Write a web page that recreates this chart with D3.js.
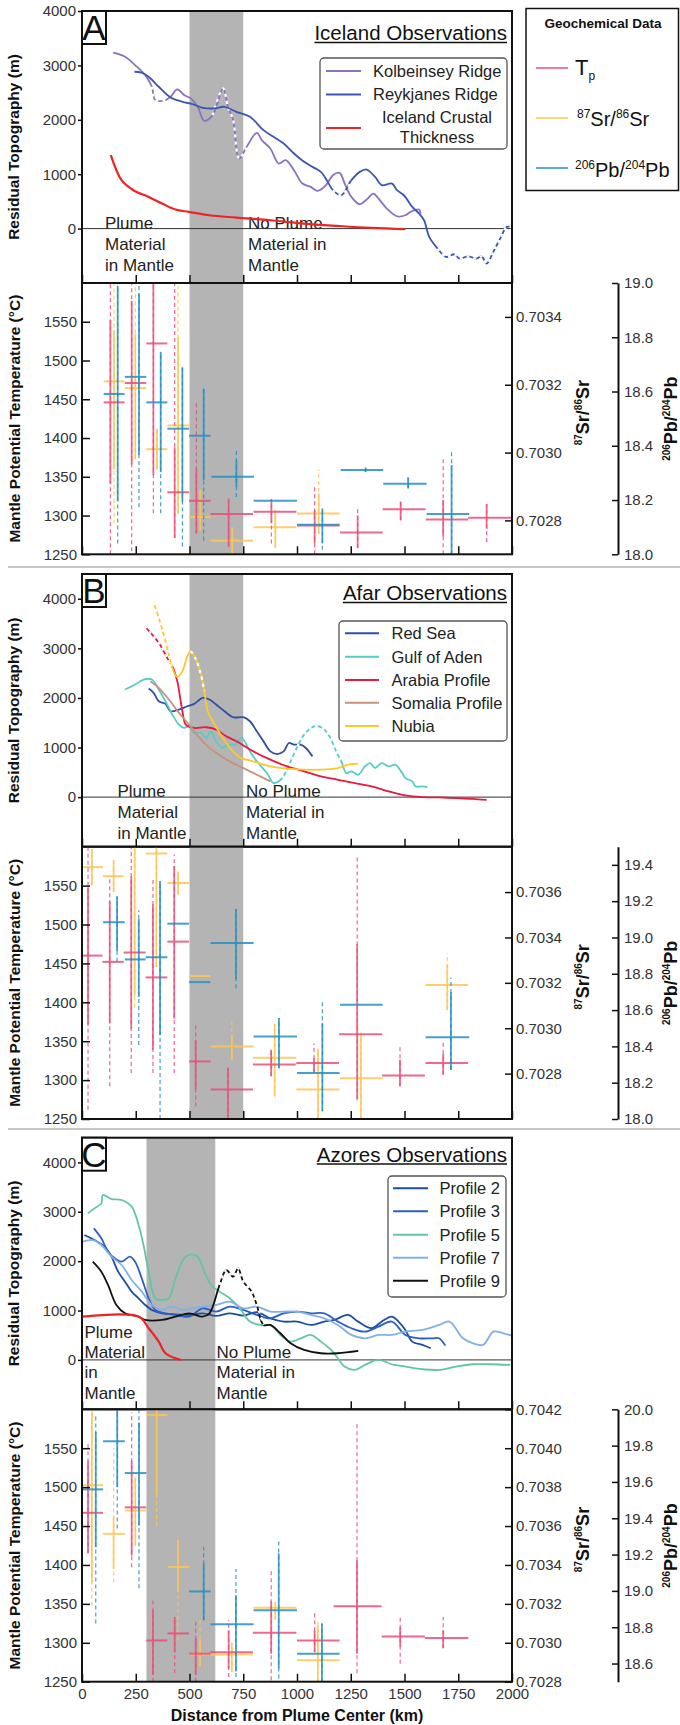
<!DOCTYPE html>
<html lang="en">
<head>
<meta charset="UTF-8">
<title>Plume observations</title>
<script src="https://cdn.jsdelivr.net/npm/d3@7"></script>
<style>
  body { margin: 0; background: #fff; }
  svg { display: block; font-family: "Liberation Sans", Arial, sans-serif; }
</style>
</head>
<body>
<svg id="fig" width="680" height="1725"></svg>
<script>
// ---------- data ----------
const kmTicks = [0, 250, 500, 750, 1000, 1250, 1500, 1750, 2000];
const tempTicks = [1250, 1300, 1350, 1400, 1450, 1500, 1550];

// residual topography profiles: [km, m]
const kolbeinsey = [[145,3233],[200,3160],[247,3006],[294,2822],[325,2607],[341,2362],[388,2362],[412,2423],[443,2558],[475,2454],[506,2393],[538,2239],[569,1982],[608,2086],[656,2577],[679,2239],[703,1994],[731,1288],[766,1503],[813,1761],[836,1626],[876,1472],[915,1196],[947,1258],[986,1074],[1025,828],[1064,767],[1096,693],[1135,798],[1167,982],[1198,1025],[1222,828],[1253,583],[1292,448],[1324,534],[1355,644],[1379,552],[1418,368],[1465,227],[1504,245],[1528,307],[1568,350],[1575,276]];
const reykjanes = [[244,2883],[278,2865],[310,2791],[357,2607],[412,2411],[467,2331],[514,2288],[561,2221],[616,2209],[663,2239],[718,2147],[781,2055],[844,1810],[891,1687],[938,1564],[986,1380],[1033,1227],[1072,1135],[1111,1043],[1143,859],[1167,706],[1206,613],[1253,890],[1292,1043],[1324,1086],[1363,951],[1394,798],[1442,828],[1465,706],[1497,613],[1536,399],[1568,276],[1591,153],[1615,-153],[1654,-368],[1693,-521],[1733,-472],[1756,-552],[1796,-509],[1835,-552],[1859,-509],[1882,-644],[1913,-429],[1945,-184],[1976,31],[2000,20]];
const icelandCrust = [[134,1350],[184,890],[239,706],[310,583],[373,460],[435,350],[498,307],[593,245],[718,202],[876,153],[1033,92],[1190,49],[1347,12],[1504,-12]];

const redSea = [[310,2190],[333,2103],[357,1934],[388,1880],[412,1732],[451,1766],[490,1833],[522,1880],[561,2002],[593,1968],[624,1867],[663,1732],[703,1611],[750,1611],[781,1530],[813,1328],[844,1126],[876,923],[907,869],[938,923],[962,1092],[986,1058],[1017,1058],[1041,991],[1072,822]];
const gulfAden = [[200,2170],[247,2271],[286,2372],[325,2372],[357,2170],[388,1934],[420,1665],[451,1463],[475,1395],[498,1429],[522,1294],[553,1294],[577,1193],[600,1328],[624,1126],[655,991],[679,1058],[711,1058],[742,1193],[781,923],[813,721],[860,485],[891,283],[931,384],[970,721],[1033,1260],[1080,1429],[1119,1395],[1151,1226],[1182,923],[1206,721],[1230,485],[1253,519],[1285,452],[1316,620],[1340,687],[1363,586],[1394,687],[1426,620],[1457,654],[1489,485],[1504,384],[1536,317],[1552,216],[1583,216],[1607,202]];
const arabia = [[291,3451],[318,3316],[357,3114],[396,2810],[420,2642],[443,2339],[467,1732],[483,1463],[522,1395],[577,1409],[624,1361],[671,1227],[718,1126],[797,923],[876,755],[954,620],[1033,519],[1111,418],[1190,350],[1269,283],[1347,216],[1426,115],[1504,34],[1583,0],[1662,-7],[1740,-20],[1819,-34],[1882,-54]];
const somalia = [[318,2339],[357,2204],[404,1968],[451,1698],[498,1463],[561,1126],[624,890],[687,721],[750,586],[813,452],[876,317]];
const nubia = [[333,3923],[357,3619],[380,3282],[404,2878],[420,2608],[443,2420],[467,2541],[490,2844],[506,2945],[530,2777],[553,2473],[569,2137],[585,1732],[608,1530],[655,1193],[703,923],[734,802],[797,721],[876,620],[954,573],[1033,553],[1111,553],[1190,586],[1237,654],[1285,674]];

const profile2 = [[11,2529],[58,2428],[105,2293],[137,2091],[168,1787],[200,1585],[231,1383],[263,1248],[294,1113],[325,1012],[373,944],[435,924],[498,911],[561,944],[624,890],[687,944],[750,897],[813,965],[876,843],[938,776],[1001,776],[1064,708],[1127,776],[1174,809],[1237,911],[1284,776],[1347,641],[1394,776],[1441,877],[1472,776],[1504,607],[1536,371],[1583,304],[1622,236]];
const profile3 = [[55,2664],[90,2462],[121,2192],[153,2057],[184,1990],[223,2091],[247,1990],[278,1652],[310,1248],[341,1012],[388,944],[435,911],[498,877],[561,1045],[624,978],[687,1079],[750,1012],[813,911],[876,843],[938,944],[1001,978],[1064,944],[1127,944],[1190,776],[1253,641],[1316,573],[1379,675],[1441,776],[1504,506],[1567,438],[1630,438],[1661,438],[1690,290]];
const profile5 = [[27,2968],[58,3069],[90,3170],[97,3339],[137,3258],[184,3238],[231,3103],[263,2732],[286,2327],[310,1787],[341,1248],[373,1214],[404,1248],[435,1652],[475,2057],[506,2138],[538,2091],[569,1787],[600,1518],[640,1383],[687,1248],[734,1045],[781,776],[828,708],[876,708],[923,506],[970,371],[1017,438],[1064,506],[1111,371],[1159,202],[1190,34],[1221,-135],[1269,-202],[1316,-101],[1379,0],[1441,-88],[1504,-135],[1583,-189],[1661,-202],[1740,-135],[1819,-88],[1898,-88],[1992,-101]];
const profile7 = [[3,2394],[50,2428],[90,2327],[137,2091],[184,1922],[231,1619],[278,1383],[325,1113],[373,1012],[420,1079],[467,1012],[514,1045],[561,1079],[624,1113],[687,1180],[750,1045],[813,1079],[876,978],[938,978],[1001,978],[1064,911],[1127,843],[1190,708],[1253,506],[1316,438],[1379,506],[1441,506],[1504,573],[1583,607],[1661,708],[1709,776],[1772,438],[1819,337],[1866,304],[1913,573],[1960,539],[2000,492]];
const profile9 = [[50,1990],[90,1787],[121,1518],[160,1113],[200,944],[263,877],[294,809],[373,809],[435,877],[498,944],[561,877],[593,944],[640,1518],[671,1821],[703,1686],[726,1855],[750,1585],[789,1383],[813,1113],[844,708],[876,708],[923,540],[970,337],[1033,202],[1111,135],[1190,135],[1285,182]];
const azoresCrust = [[3,877],[263,877],[310,641],[357,371],[388,135],[459,0]];

// geochemical crosses: [xAtBar, barFrom, barTo, value, solidLo, solidHi, dashLo, dashHi]
const icelandTp = [[132,101,198,1446,1341,1552,1250,1610],[231,199,299,1471,1366,1577,1254,1610],[332,299,397,1522,1352,1610,1303,1610],[431,397,498,1330,1271,1388,1271,1610],[532,498,598,1319,1277,1361,1277,1448],[682,598,795,1302,1260,1322,1260,1322],[881,798,997,1305,1290,1321,1264,1321],[1082,1000,1198,1287,1264,1307,1250,1339],[1282,1200,1398,1278,1258,1300,1258,1308],[1482,1398,1598,1308,1294,1318,1294,1318],[1680,1599,1796,1295,1273,1320,1250,1376],[1882,1796,1998,1297,1283,1315,1266,1315]];
const icelandSr = [[149,101,198,0.70321,0.70295,0.70336,0.70279,0.70352],[248,199,299,0.70319,0.70298,0.70335,0.70298,0.70352],[349,299,397,0.70301,0.70295,0.70307,0.70295,0.70307],[447,397,498,0.70308,0.70282,0.70334,0.70282,0.70352],[550,498,598,0.70281,0.70277,0.70289,0.70277,0.70289],[699,598,795,0.70274,0.70270,0.70278,0.70270,0.70278],[899,798,997,0.70278,0.70272,0.70283,0.70272,0.70283],[1101,1000,1198,0.70282,0.70276,0.70288,0.70276,0.70295]];
const icelandPb = [[166,101,198,18.591,18.197,18.989,18.04,19.03],[265,199,299,18.654,18.366,18.96,18.174,19.03],[366,299,397,18.56,18.303,18.746,18.151,18.746],[467,397,498,18.463,18.194,18.689,18.029,18.689],[566,498,598,18.437,18.274,18.611,18.051,18.611],[718,602,800,18.286,18.249,18.346,18.211,18.383],[900,798,1000,18.197,18.197,18.197,18.197,18.197],[1118,1000,1198,18.109,18.04,18.169,18.017,18.169],[1319,1203,1401,18.311,18.303,18.32,18.303,18.32],[1517,1401,1603,18.26,18.243,18.283,18.243,18.283],[1719,1603,1801,18.149,18.0,18.329,18.0,18.383]];

const afarTp = [[28,0,95,1460,1371,1548,1262,1600],[129,95,194,1452,1373,1530,1292,1562],[229,194,296,1464,1366,1562,1309,1600],[330,296,397,1432,1339,1526,1309,1560],[429,397,498,1478,1379,1575,1309,1590],[529,498,598,1324,1288,1351,1266,1373],[679,598,795,1288,1253,1316,1250,1316],[880,795,994,1320,1305,1339,1305,1339],[1079,997,1195,1322,1309,1328,1309,1347],[1280,1196,1396,1359,1275,1475,1275,1588],[1479,1396,1595,1306,1292,1326,1292,1345],[1680,1598,1796,1322,1307,1334,1307,1351]];
const afarSr = [[46,0,98,0.70371,0.70363,0.70379,0.70363,0.70379],[147,98,194,0.70367,0.70360,0.70374,0.70360,0.70374],[245,194,296,0.70387,0.70314,0.70383,0.70309,0.70383],[346,296,397,0.70377,0.70327,0.70383,0.70327,0.70383],[447,397,498,0.70364,0.70359,0.70369,0.70359,0.70369],[548,498,597,0.70323,0.70323,0.70323,0.70323,0.70323],[697,598,798,0.70292,0.70286,0.70297,0.70286,0.70304],[896,795,997,0.70287,0.70270,0.70302,0.70270,0.70302],[1098,997,1198,0.70273,0.70260,0.70291,0.70260,0.70291],[1297,1200,1398,0.70278,0.70260,0.70298,0.70260,0.70298],[1699,1598,1796,0.70319,0.70308,0.70328,0.70308,0.70333]];
const afarPb = [[163,98,199,19.084,18.926,19.226,18.866,19.226],[264,199,296,18.879,18.673,19.101,18.407,19.149],[363,296,397,18.891,18.463,19.311,18.0,19.311],[447,397,498,19.076,19.076,19.076,19.076,19.076],[548,498,597,18.754,18.754,18.754,18.754,18.754],[716,598,798,18.969,18.771,19.157,18.72,19.157],[916,798,1000,18.454,18.279,18.557,18.279,18.557],[1118,1000,1198,18.253,18.043,18.527,18.043,18.643],[1299,1200,1398,18.63,18.63,18.63,18.63,18.63],[1716,1598,1801,18.45,18.27,18.699,18.27,18.78]];

const azoresTp = [[28,0,98,1467,1415,1534,1415,1558],[231,199,299,1474,1412,1534,1397,1596],[330,299,397,1303,1259,1342,1250,1357],[431,397,498,1312,1288,1333,1261,1333],[529,498,598,1286,1259,1306,1250,1327],[682,598,795,1288,1267,1316,1256,1329],[880,795,997,1313,1286,1353,1252,1395],[1082,1000,1198,1303,1288,1316,1288,1338],[1279,1170,1393,1347,1286,1406,1261,1581],[1480,1394,1595,1308,1295,1320,1273,1335],[1680,1595,1797,1306,1293,1316,1293,1333]];
const azoresSr = [[46,0,98,0.70381,0.70331,0.70419,0.70319,0.70419],[147,98,199,0.70356,0.70338,0.70365,0.70331,0.70400],[248,199,299,0.70368,0.70350,0.70385,0.70350,0.70385],[347,299,397,0.70417,0.70376,0.70420,0.70360,0.70420],[446,400,498,0.70339,0.70326,0.70353,0.70301,0.70353],[549,498,598,0.70294,0.70288,0.70302,0.70288,0.70312],[697,598,795,0.70294,0.70285,0.70300,0.70285,0.70300],[899,798,997,0.70318,0.70312,0.70321,0.70312,0.70321],[1097,1000,1198,0.70291,0.70280,0.70309,0.70280,0.70312]];
const azoresPb = [[64,0,98,19.559,19.241,19.876,18.821,19.966],[164,98,199,19.824,19.571,20.0,19.344,20.0],[265,199,299,19.649,19.361,19.927,19.014,20.0],[566,498,598,18.997,18.839,19.151,18.839,19.241],[716,598,798,18.817,18.556,18.976,18.526,19.121],[915,798,1000,18.894,18.573,19.207,18.517,19.28],[1116,1000,1198,18.654,18.5,18.821,18.5,18.821]];

// ---------- setup ----------
const svg = d3.select('#fig');
const x = d3.scaleLinear([0, 2000], [82, 512]);
const TP = '#ec4f78', SR = '#fdc653', PB = '#2590c2';
const font = '"Liberation Sans", Arial, sans-serif';

function sup(text, parts, big, small) {
  // parts: [[str, isSuper], ...]
  parts.forEach(([s, isSup], i) => {
    const prev = i > 0 ? parts[i - 1][1] : false;
    text.append('tspan')
      .attr('font-size', isSup ? small : big)
      .attr('dy', isSup && !prev ? -big * 0.38 : (!isSup && prev ? big * 0.38 : 0))
      .text(s);
  });
}

function styleAxis(g) {
  g.select('.domain').remove();
  g.selectAll('.tick line').attr('stroke', '#111').attr('stroke-width', 1.5);
  g.selectAll('.tick text').attr('fill', '#333').attr('font-size', 15).attr('font-family', font);
}

function drawLine(g, y, pts, color, dashes, width) {
  const line = d3.line().x(d => x(d[0])).y(d => y(d[1])).curve(d3.curveCatmullRom.alpha(0.5));
  g.append('path').attr('d', line(pts)).attr('fill', 'none')
    .attr('stroke', color).attr('stroke-width', width || 1.8).attr('stroke-linejoin', 'round');
  (dashes || []).forEach(([a, b]) => {
    const sub = pts.filter(d => d[0] >= a && d[0] <= b);
    if (sub.length < 2) return;
    g.append('path').attr('d', line(sub)).attr('fill', 'none')
      .attr('stroke', '#fff').attr('stroke-width', (width || 1.8) + 0.4).attr('stroke-dasharray', '3,4');
  });
}

function topoPanel(c) {
  const g = svg.append('g');
  const y = d3.scaleLinear(c.yDomain, [c.bottom, c.top]);
  const clipId = 'clip' + c.letter;
  svg.append('clipPath').attr('id', clipId).append('rect')
    .attr('x', 82).attr('y', c.top).attr('width', 430).attr('height', c.bottom - c.top);

  g.append('rect').attr('x', x(c.band[0])).attr('y', c.top)
    .attr('width', x(c.band[1]) - x(c.band[0])).attr('height', c.bottom - c.top).attr('fill', '#b4b4b4');
  g.append('line').attr('x1', 82).attr('x2', 512).attr('y1', y(0)).attr('y2', y(0))
    .attr('stroke', '#333').attr('stroke-width', 1);

  // annotations
  const ann = g.append('g').attr('font-size', 17).attr('fill', '#222');
  c.plumeText.forEach((s, i) => ann.append('text').attr('x', c.plumeX).attr('y', c.annY[i]).text(s));
  c.noPlumeText.forEach((s, i) => ann.append('text').attr('x', c.noPlumeX).attr('y', c.annY[c.noPlumeStart + i]).text(s));

  const lines = g.append('g').attr('clip-path', `url(#${clipId})`);
  c.series.forEach(s => drawLine(lines, y, s.data, s.color, s.dash, s.width));

  g.append('rect').attr('x', 82).attr('y', c.top).attr('width', 430).attr('height', c.bottom - c.top)
    .attr('fill', 'none').attr('stroke', '#111').attr('stroke-width', 2);

  const ya = g.append('g').attr('transform', 'translate(82,0)')
    .call(d3.axisLeft(y).tickValues(c.yTicks).tickSize(4).tickPadding(2).tickFormat(d3.format('d')));
  styleAxis(ya);
  const xa = g.append('g').attr('transform', `translate(0,${c.bottom})`)
    .call(d3.axisBottom(x).tickValues(kmTicks).tickSize(-8).tickFormat(''));
  styleAxis(xa);

  // letter
  g.append('rect').attr('x', 82).attr('y', c.top).attr('width', 24).attr('height', 33)
    .attr('fill', '#fff').attr('stroke', '#111').attr('stroke-width', 2);
  g.append('text').attr('x', 94).attr('y', c.top + 29).attr('text-anchor', 'middle')
    .attr('font-size', 35).attr('fill', '#111').text(c.letter);

  // title
  const t = g.append('text').attr('x', 507).attr('y', c.titleY).attr('text-anchor', 'end')
    .attr('font-size', 20.5).attr('fill', '#111').text(c.title);
  const tw = t.node().getComputedTextLength();
  g.append('line').attr('x1', 507 - tw).attr('x2', 507).attr('y1', c.titleY + 2.5).attr('y2', c.titleY + 2.5)
    .attr('stroke', '#111').attr('stroke-width', 1.3);

  // legend
  const L = c.legend;
  g.append('rect').attr('x', L.x).attr('y', L.y).attr('width', L.w).attr('height', L.h).attr('rx', 4)
    .attr('fill', '#fff').attr('stroke', '#555').attr('stroke-width', 1.3);
  c.series.forEach((s, i) => {
    const ly = L.rows[i];
    g.append('line').attr('x1', L.lx0).attr('x2', L.lx1).attr('y1', ly).attr('y2', ly)
      .attr('stroke', s.color).attr('stroke-width', 2);
    if (s.label2) {
      g.append('text').attr('x', L.cx).attr('y', ly - 5).attr('text-anchor', 'middle')
        .attr('font-size', 16.5).attr('fill', '#222').text(s.label);
      g.append('text').attr('x', L.cx).attr('y', ly + 14.5).attr('text-anchor', 'middle')
        .attr('font-size', 16.5).attr('fill', '#222').text(s.label2);
    } else {
      g.append('text').attr('x', L.tx).attr('y', ly + 5.8)
        .attr('font-size', 16.5).attr('fill', '#222').text(s.label);
    }
  });

  g.append('text').attr('transform', `translate(19,${(c.top + c.bottom) / 2}) rotate(-90)`)
    .attr('text-anchor', 'middle').attr('font-size', 15.5).attr('font-weight', 'bold').attr('fill', '#111')
    .text('Residual Topography (m)');
}

function crosses(g, data, yS, color) {
  data.forEach(([vx, x0, x1, v, s0, s1, d0, d1]) => {
    g.append('line').attr('x1', x(vx)).attr('x2', x(vx)).attr('y1', yS(d0)).attr('y2', yS(d1))
      .attr('stroke', color).attr('stroke-width', 1.2).attr('stroke-dasharray', '4,3').attr('opacity', 0.85);
    if (s1 > s0) {
      g.append('line').attr('x1', x(vx)).attr('x2', x(vx)).attr('y1', yS(s0)).attr('y2', yS(s1))
        .attr('stroke', color).attr('stroke-width', 1.8).attr('opacity', 0.85);
    }
    g.append('line').attr('x1', x(x0)).attr('x2', x(x1)).attr('y1', yS(v)).attr('y2', yS(v))
      .attr('stroke', color).attr('stroke-width', 2).attr('opacity', 0.85);
  });
}

function geoPanel(c) {
  const g = svg.append('g');
  const t = d3.scaleLinear([1250, 1600], [c.bottom, c.top]);
  const sr = d3.scaleLinear(c.srDomain, [c.bottom, c.top]);
  const pb = d3.scaleLinear(c.pbDomain, [c.bottom, c.top]);
  const clipId = 'gclip' + c.letter;
  svg.append('clipPath').attr('id', clipId).append('rect')
    .attr('x', 82).attr('y', c.top).attr('width', 430).attr('height', c.bottom - c.top);

  g.append('rect').attr('x', x(c.band[0])).attr('y', c.top)
    .attr('width', x(c.band[1]) - x(c.band[0])).attr('height', c.bottom - c.top).attr('fill', '#b4b4b4');

  const m = g.append('g').attr('clip-path', `url(#${clipId})`);
  crosses(m, c.sr, sr, SR);
  crosses(m, c.tp, t, TP);
  crosses(m, c.pb, pb, PB);

  g.append('rect').attr('x', 82).attr('y', c.top).attr('width', 430).attr('height', c.bottom - c.top)
    .attr('fill', 'none').attr('stroke', '#111').attr('stroke-width', 2);

  const ta = g.append('g').attr('transform', 'translate(82,0)')
    .call(d3.axisLeft(t).tickValues(tempTicks).tickSize(-8).tickPadding(5).tickFormat(d3.format('d')));
  styleAxis(ta);
  const sa = g.append('g').attr('transform', 'translate(512,0)')
    .call(d3.axisRight(sr).tickValues(c.srTicks).tickSize(-7).tickPadding(4).tickFormat(d3.format('.4f')));
  styleAxis(sa);
  const pa = g.append('g').attr('transform', 'translate(618,0)')
    .call(d3.axisRight(pb).tickValues(c.pbTicks).tickSize(-6).tickSizeOuter(0).tickPadding(6).tickFormat(d3.format('.1f')));
  pa.select('.domain').attr('stroke', '#111').attr('stroke-width', 2);
  pa.selectAll('.tick line').attr('stroke', '#111').attr('stroke-width', 1.5);
  pa.selectAll('.tick text').attr('fill', '#333').attr('font-size', 15).attr('font-family', font);

  const xa = g.append('g').attr('transform', `translate(0,${c.bottom})`)
    .call(d3.axisBottom(x).tickValues(kmTicks).tickSize(-8).tickPadding(7)
      .tickFormat(c.xLabels ? d3.format('d') : ''));
  styleAxis(xa);

  const mid = (c.top + c.bottom) / 2;
  g.append('text').attr('transform', `translate(20,${mid}) rotate(-90)`)
    .attr('text-anchor', 'middle').attr('font-size', 15.5).attr('font-weight', 'bold').attr('fill', '#111')
    .text('Mantle Potential Temperature (°C)');
  const s1 = g.append('text').attr('transform', `translate(589,${mid - 6}) rotate(-90)`)
    .attr('text-anchor', 'middle').attr('font-weight', 'bold').attr('fill', '#111');
  sup(s1, [['87', true], ['Sr/', false], ['86', true], ['Sr', false]], 18, 10);
  const s2 = g.append('text').attr('transform', `translate(677,${mid}) rotate(-90)`)
    .attr('text-anchor', 'middle').attr('font-weight', 'bold').attr('fill', '#111');
  sup(s2, [['206', true], ['Pb/', false], ['204', true], ['Pb', false]], 18, 10);

  if (c.xLabels) {
    g.append('text').attr('x', 297).attr('y', c.bottom + 39).attr('text-anchor', 'middle')
      .attr('font-size', 16).attr('font-weight', 'bold').attr('fill', '#111')
      .text('Distance from Plume Center (km)');
  }
}

// ---------- panels ----------
topoPanel({
  letter: 'A', title: 'Iceland Observations', titleY: 40, top: 11, bottom: 283,
  yDomain: [-1000, 4000], yTicks: [0, 1000, 2000, 3000, 4000], band: [500, 750],
  plumeX: 105, noPlumeX: 248, annY: [228.5, 250, 271], noPlumeStart: 0,
  plumeText: ['Plume', 'Material', 'in Mantle'], noPlumeText: ['No Plume', 'Material in', 'Mantle'],
  legend: { x: 320, y: 58, w: 187, h: 91, lx0: 326, lx1: 361, tx: 373, cx: 437, rows: [71, 94.5, 128] },
  series: [
    { label: 'Kolbeinsey Ridge', data: kolbeinsey, color: '#8a72bf', dash: [[320, 400], [570, 770]] },
    { label: 'Reykjanes Ridge', data: reykjanes, color: '#3b56b0', dash: [[1160, 1260], [1640, 2000]] },
    { label: 'Iceland Crustal', label2: 'Thickness', data: icelandCrust, color: '#ef2323', width: 2.2 }
  ]
});
geoPanel({
  letter: 'A', top: 283, bottom: 554.3, band: [500, 750],
  srDomain: [0.7027, 0.7035], srTicks: [0.7028, 0.7030, 0.7032, 0.7034],
  pbDomain: [18.0, 19.0], pbTicks: [18.0, 18.2, 18.4, 18.6, 18.8, 19.0],
  tp: icelandTp, sr: icelandSr, pb: icelandPb
});

topoPanel({
  letter: 'B', title: 'Afar Observations', titleY: 600, top: 574, bottom: 846.7,
  yDomain: [-1000, 4500], yTicks: [0, 1000, 2000, 3000, 4000], band: [500, 750],
  plumeX: 117.5, noPlumeX: 246, annY: [797, 818, 838.5], noPlumeStart: 0,
  plumeText: ['Plume', 'Material', 'in Mantle'], noPlumeText: ['No Plume', 'Material in', 'Mantle'],
  legend: { x: 339, y: 621, w: 168, h: 120, lx0: 345, lx1: 379, tx: 391.5, cx: 430, rows: [633.3, 656.7, 680, 702.7, 726] },
  series: [
    { label: 'Red Sea', data: redSea, color: '#2f4fa6' },
    { label: 'Gulf of Aden', data: gulfAden, color: '#55cdc4', dash: [[900, 1210]] },
    { label: 'Arabia Profile', data: arabia, color: '#e8193f', dash: [[285, 425]] },
    { label: 'Somalia Profile', data: somalia, color: '#c9917b' },
    { label: 'Nubia', data: nubia, color: '#ffc72c', dash: [[330, 420], [500, 570]] }
  ]
});
geoPanel({
  letter: 'B', top: 846.7, bottom: 1119, band: [500, 750],
  srDomain: [0.7026, 0.7038], srTicks: [0.7028, 0.7030, 0.7032, 0.7034, 0.7036],
  pbDomain: [18.0, 19.5], pbTicks: [18.0, 18.2, 18.4, 18.6, 18.8, 19.0, 19.2, 19.4],
  tp: afarTp, sr: afarSr, pb: afarPb
});

topoPanel({
  letter: 'C', title: 'Azores Observations', titleY: 1161.5, top: 1137.7, bottom: 1409.3,
  yDomain: [-1000, 4500], yTicks: [0, 1000, 2000, 3000, 4000], band: [300, 620],
  plumeX: 84.5, noPlumeX: 216.5, annY: [1338.3, 1358.3, 1378.3, 1399], noPlumeStart: 1,
  plumeText: ['Plume', 'Material', 'in', 'Mantle'], noPlumeText: ['No Plume', 'Material in', 'Mantle'],
  legend: { x: 388, y: 1176, w: 118, h: 121, lx0: 393, lx1: 428, tx: 439.5, cx: 460, rows: [1188.3, 1211.3, 1234.7, 1257.7, 1280.7] },
  series: [
    { label: 'Profile 2', data: profile2, color: '#1f4e9f' },
    { label: 'Profile 3', data: profile3, color: '#2d5fc2' },
    { label: 'Profile 5', data: profile5, color: '#62c6a2' },
    { label: 'Profile 7', data: profile7, color: '#82b1e7' },
    { label: 'Profile 9', data: profile9, color: '#111111', dash: [[600, 850]] }
  ]
});
// crust curve without legend entry in panel C
(function () {
  const y = d3.scaleLinear([-1000, 4500], [1409.3, 1137.7]);
  drawLine(svg.append('g').attr('clip-path', 'url(#clipC)'), y, azoresCrust, '#ef2323', null, 2.2);
})();
geoPanel({
  letter: 'C', top: 1409.3, bottom: 1681.7, band: [300, 620], xLabels: true,
  srDomain: [0.7028, 0.7042], srTicks: [0.7028, 0.7030, 0.7032, 0.7034, 0.7036, 0.7038, 0.7040, 0.7042],
  pbDomain: [18.5, 20.0], pbTicks: [18.6, 18.8, 19.0, 19.2, 19.4, 19.6, 19.8, 20.0],
  tp: azoresTp, sr: azoresSr, pb: azoresPb
});

// separators
[567, 1129].forEach(yy => svg.append('line').attr('x1', 8).attr('x2', 680).attr('y1', yy).attr('y2', yy)
  .attr('stroke', '#c8c8c8').attr('stroke-width', 2));

// geochemical legend
const gl = svg.append('g');
gl.append('rect').attr('x', 526).attr('y', 8.5).attr('width', 152.5).attr('height', 182)
  .attr('fill', '#fff').attr('stroke', '#111').attr('stroke-width', 1.5);
gl.append('text').attr('x', 603).attr('y', 28).attr('text-anchor', 'middle')
  .attr('font-size', 13.5).attr('font-weight', 'bold').attr('fill', '#111').text('Geochemical Data');
[[68, TP], [118, SR], [168, PB]].forEach(([yy, col]) => gl.append('line')
  .attr('x1', 536).attr('x2', 568).attr('y1', yy).attr('y2', yy).attr('stroke', col).attr('stroke-width', 1.5));
const l1 = gl.append('text').attr('x', 575).attr('y', 75).attr('fill', '#111');
l1.append('tspan').attr('font-size', 22).text('T');
l1.append('tspan').attr('font-size', 12).attr('dy', 5).text('p');
const l2 = gl.append('text').attr('x', 577).attr('y', 126).attr('fill', '#111');
sup(l2, [['87', true], ['Sr/', false], ['86', true], ['Sr', false]], 20, 12);
const l3 = gl.append('text').attr('x', 575).attr('y', 177).attr('fill', '#111');
sup(l3, [['206', true], ['Pb/', false], ['204', true], ['Pb', false]], 20, 12);
</script>
</body>
</html>
